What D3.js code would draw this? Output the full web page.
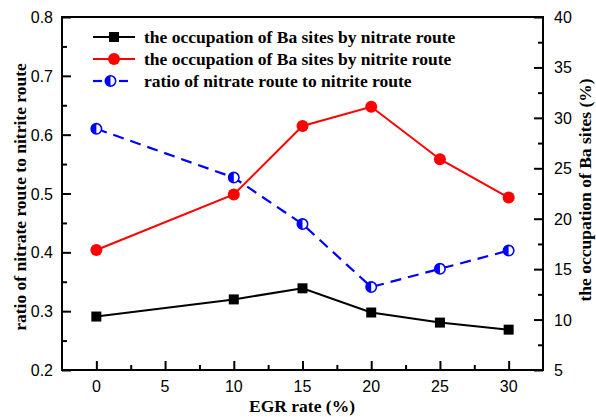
<!DOCTYPE html>
<html>
<head>
<meta charset="utf-8">
<script src="https://cdn.jsdelivr.net/npm/d3@7"></script>
<style>
    body { margin: 0; background: #fff; }
    svg { display: block; }
</style>
</head>
<body>
<svg id="chartSvg" width="596" height="417"></svg>
<script>
const egrRate = [0, 10, 15, 20, 25, 30];
const nitrateOccupation = [10.3, 12.0, 13.1, 10.7, 9.7, 9.0];
const nitriteOccupation = [16.9, 22.4, 29.2, 31.1, 25.9, 22.1];
const routeRatio = [0.610, 0.527, 0.448, 0.341, 0.372, 0.403];

const leftTicks = [0.2, 0.3, 0.4, 0.5, 0.6, 0.7, 0.8];
const rightTicks = [5, 10, 15, 20, 25, 30, 35, 40];
const xTicks = [0, 5, 10, 15, 20, 25, 30];

const legendLabels = [
    "the occupation of Ba sites by nitrate route",
    "the occupation of Ba sites by nitrite route",
    "ratio of nitrate route to nitrite route"
];

const svg = d3.select("#chartSvg");
const margin = { left: 62, right: 543, top: 17, bottom: 370 };

const x = d3.scaleLinear().domain([-2.5, 32.5]).range([margin.left, margin.right]);
const yLeft = d3.scaleLinear().domain([0.2, 0.8]).range([margin.bottom, margin.top]);
const yRight = d3.scaleLinear().domain([5, 40]).range([margin.bottom, margin.top]);

const tickFont = "'Liberation Sans', Arial, sans-serif";
const titleFont = "'Liberation Serif', 'Times New Roman', serif";
const tickSize = 16;
const titleSize = 17.5;

// frame
svg.append("rect")
    .attr("x", margin.left)
    .attr("y", margin.top)
    .attr("width", margin.right - margin.left)
    .attr("height", margin.bottom - margin.top)
    .attr("fill", "none")
    .attr("stroke", "#000")
    .attr("stroke-width", 2);

// inward ticks, major ones longer
const leftAxis = d3.axisLeft(yLeft).tickValues(d3.range(0.2, 0.801, 0.05)).tickSize(-5).tickFormat("");
const bottomAxis = d3.axisBottom(x).tickValues(d3.range(0, 31, 2.5)).tickSize(-5).tickFormat("");
const rightAxis = d3.axisRight(yRight).tickValues(d3.range(5, 41, 2.5)).tickSize(-5).tickFormat("");

const drawTicks = (axis, transform, majorSet) => {
    const g = svg.append("g").attr("transform", transform).call(axis);
    g.select(".domain").remove();
    g.selectAll(".tick line")
        .attr("stroke", "#000")
        .attr("stroke-width", 2)
        .each(function (d) {
            const isMajor = majorSet.some(m => Math.abs(m - d) < 1e-6);
            const line = d3.select(this);
            ["x2", "y2"].forEach(a => {
                const v = +line.attr(a);
                if (v) line.attr(a, isMajor ? v * 1.8 : v);
            });
        });
};

drawTicks(leftAxis, `translate(${margin.left},0)`, leftTicks);
drawTicks(bottomAxis, `translate(0,${margin.bottom})`, xTicks);
drawTicks(rightAxis, `translate(${margin.right},0)`, rightTicks);

// tick labels
svg.append("g").selectAll("text")
    .data(leftTicks)
    .join("text")
    .attr("x", margin.left - 9)
    .attr("y", d => yLeft(d) + 6)
    .attr("text-anchor", "end")
    .attr("font-family", tickFont)
    .attr("font-size", tickSize)
    .text(d => d.toFixed(1));

svg.append("g").selectAll("text")
    .data(rightTicks)
    .join("text")
    .attr("x", margin.right + 11)
    .attr("y", d => yRight(d) + 6)
    .attr("font-family", tickFont)
    .attr("font-size", tickSize)
    .text(d => d);

svg.append("g").selectAll("text")
    .data(xTicks)
    .join("text")
    .attr("x", d => x(d))
    .attr("y", margin.bottom + 22)
    .attr("text-anchor", "middle")
    .attr("font-family", tickFont)
    .attr("font-size", tickSize)
    .text(d => d);

// axis titles
svg.append("text")
    .attr("x", 302)
    .attr("y", 412)
    .attr("text-anchor", "middle")
    .attr("font-family", titleFont)
    .attr("font-weight", "bold")
    .attr("font-size", titleSize)
    .text("EGR rate (%)");

svg.append("text")
    .attr("transform", "translate(26,197) rotate(-90)")
    .attr("text-anchor", "middle")
    .attr("font-family", titleFont)
    .attr("font-weight", "bold")
    .attr("font-size", titleSize)
    .text("ratio of nitrate route to nitrite route");

svg.append("text")
    .attr("transform", "translate(591,190) rotate(-90)")
    .attr("text-anchor", "middle")
    .attr("font-family", titleFont)
    .attr("font-weight", "bold")
    .attr("font-size", titleSize)
    .text("the occupation of Ba sites (%)");

// series
const occupationLine = d3.line().x((d, i) => x(egrRate[i])).y(d => yRight(d));
const ratioLine = d3.line().x((d, i) => x(egrRate[i])).y(d => yLeft(d));

svg.append("path")
    .attr("d", occupationLine(nitrateOccupation))
    .attr("fill", "none")
    .attr("stroke", "#000")
    .attr("stroke-width", 2);

svg.append("path")
    .attr("d", occupationLine(nitriteOccupation))
    .attr("fill", "none")
    .attr("stroke", "#ff0000")
    .attr("stroke-width", 2);

svg.append("path")
    .attr("d", ratioLine(routeRatio))
    .attr("fill", "none")
    .attr("stroke", "#0000ff")
    .attr("stroke-width", 2.2)
    .attr("stroke-dasharray", "11,7");

const squareMarker = (g, cx, cy) => {
    g.append("rect")
        .attr("x", cx - 5).attr("y", cy - 5)
        .attr("width", 10).attr("height", 10)
        .attr("fill", "#000");
};

const circleMarker = (g, cx, cy) => {
    g.append("circle")
        .attr("cx", cx).attr("cy", cy).attr("r", 6)
        .attr("fill", "#ff0000");
};

const halfMarker = (g, cx, cy) => {
    const r = 5.2;
    g.append("circle")
        .attr("cx", cx).attr("cy", cy).attr("r", r)
        .attr("fill", "#fff")
        .attr("stroke", "#0000ff")
        .attr("stroke-width", 1.6);
    g.append("path")
        .attr("d", `M${cx},${cy - r} A${r},${r} 0 0 0 ${cx},${cy + r} Z`)
        .attr("fill", "#0000ff");
};

const markers = svg.append("g");
nitrateOccupation.forEach((d, i) => squareMarker(markers, x(egrRate[i]), yRight(d)));
nitriteOccupation.forEach((d, i) => circleMarker(markers, x(egrRate[i]), yRight(d)));
routeRatio.forEach((d, i) => halfMarker(markers, x(egrRate[i]), yLeft(d)));

// legend
const legend = svg.append("g");
const legendRows = [
    { y: 37, color: "#000", marker: squareMarker },
    { y: 59, color: "#ff0000", marker: circleMarker },
    { y: 81, color: "#0000ff", marker: halfMarker }
];

legendRows.forEach((row, i) => {
    if (i < 2) {
        legend.append("line")
            .attr("x1", 93).attr("x2", 135)
            .attr("y1", row.y).attr("y2", row.y)
            .attr("stroke", row.color)
            .attr("stroke-width", 2);
        row.marker(legend, 114, row.y);
    } else {
        legend.append("line")
            .attr("x1", 93).attr("x2", 102)
            .attr("y1", row.y).attr("y2", row.y)
            .attr("stroke", row.color).attr("stroke-width", 2.2);
        legend.append("line")
            .attr("x1", 119).attr("x2", 128)
            .attr("y1", row.y).attr("y2", row.y)
            .attr("stroke", row.color).attr("stroke-width", 2.2);
        row.marker(legend, 110.5, row.y);
    }
    legend.append("text")
        .attr("x", 144)
        .attr("y", row.y + 6)
        .attr("font-family", titleFont)
        .attr("font-weight", "bold")
        .attr("font-size", titleSize)
        .text(legendLabels[i]);
});
</script>
</body>
</html>
